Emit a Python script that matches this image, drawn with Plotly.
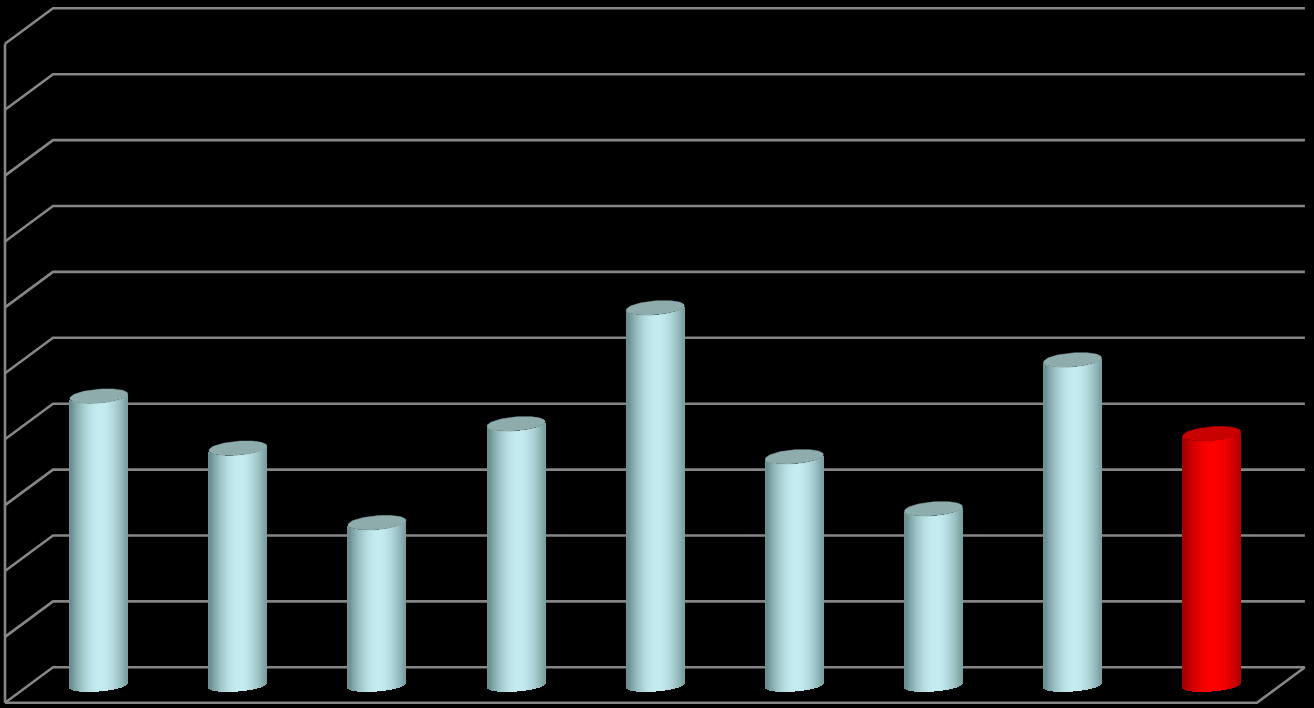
import numpy as np
import plotly.graph_objects as go

categories = [1, 2, 3, 4, 5, 6, 7, 8, 9]
values = [4.39, 3.60, 2.47, 3.97, 5.73, 3.47, 2.68, 4.94, 3.82]
highlight = [False, False, False, False, False, False, False, False, True]
grid_ticks = [0, 1, 2, 3, 4, 5, 6, 7, 8, 9, 10]

# axis scale: one category is 139.1px, one value unit is 65.9px
PX_X = 139.1
PX_Y = 65.9
DEPTH_X = 48 / PX_X
DEPTH_Y = 35.5 / PX_Y
FLOOR = -18.2 / PX_Y  # where the cylinders stand, halfway into the depth
BAR_SHIFT = 24.3 / PX_X

# cylinder shape in axis units
HALF_W = 29 / PX_X
CAP_B = 7.0 / PX_Y
CAP_TILT = 2.2 / PX_Y
BASE_B = 6.0 / PX_Y
BASE_TILT = 2.2 / PX_Y
STRIPS = 58

GRID = '#868686'


def shade(t, dark, light):
    f = max(0, 1 - abs(t - 0.08) ** 1.9)
    c = [d + (l - d) * f for d, l in zip(dark, light)]
    return 'rgb(%d,%d,%d)' % tuple(c)


fig = go.Figure()

# back wall lines and the slanted lines on the left side
left = min(categories) - 0.5
right = max(categories) + 0.5
wall_x, wall_y = [], []
for tick in grid_ticks:
    wall_x += [left, left + DEPTH_X, right + DEPTH_X, None]
    wall_y += [tick - DEPTH_Y, tick, tick, None]
# front corner post and floor edge
wall_x += [left, left, None, left, right, right + DEPTH_X]
wall_y += [grid_ticks[-1] - DEPTH_Y, grid_ticks[0] - DEPTH_Y, None,
           grid_ticks[0] - DEPTH_Y, grid_ticks[0] - DEPTH_Y, grid_ticks[0]]
fig.add_trace(go.Scatter(x=wall_x, y=wall_y, mode='lines',
                         line=dict(color=GRID, width=2.6), hoverinfo='skip'))

# each cylinder is a row of thin bars with a filled ellipse on top
# they sit on a second overlaying axis pair so they cover the wall lines
for cat, val, red in zip(categories, values, highlight):
    if red:
        dark, light, cap = (165, 0, 0), (255, 0, 0), '#c80000'
    else:
        dark, light, cap = (108, 144, 144), (197, 236, 241), '#8eacac'
    t = (np.arange(STRIPS) + 0.5) / STRIPS * 2 - 1
    round_part = np.sqrt(1 - t ** 2)
    bottom = FLOOR + t * BASE_TILT - BASE_B * round_part
    top = FLOOR + val + t * CAP_TILT - CAP_B * round_part
    fig.add_trace(go.Bar(
        x=cat + BAR_SHIFT + t * HALF_W,
        y=top - bottom,
        base=bottom,
        width=1.25 * 2 * HALF_W / STRIPS,
        marker=dict(color=[shade(i, dark, light) for i in t], line=dict(width=0)),
        hoverinfo='skip',
        xaxis='x2',
        yaxis='y2',
    ))
    a = np.linspace(0, 2 * np.pi, 90)
    fig.add_trace(go.Scatter(
        x=cat + BAR_SHIFT + np.cos(a) * HALF_W,
        y=FLOOR + val + np.cos(a) * CAP_TILT + np.sin(a) * CAP_B,
        mode='lines',
        fill='toself',
        fillcolor=cap,
        line=dict(color=cap, width=0.5),
        hoverinfo='skip',
        xaxis='x2',
        yaxis='y2',
    ))

x_range = [0.5 - 5 / PX_X, 0.5 + (1314 - 5) / PX_X]
y_range = [-40.7 / PX_Y, 667.3 / PX_Y]

fig.update_layout(
    width=1314,
    height=708,
    margin=dict(l=0, r=0, t=0, b=0),
    paper_bgcolor='black',
    plot_bgcolor='black',
    showlegend=False,
    barmode='overlay',
    bargap=0,
    xaxis=dict(range=x_range, visible=False),
    yaxis=dict(range=y_range, visible=False),
    xaxis2=dict(range=x_range, visible=False, overlaying='x'),
    yaxis2=dict(range=y_range, visible=False, overlaying='y'),
)

fig.write_html("out.html", config=dict(displayModeBar=False),
               post_script="document.body.style.margin='0';document.body.style.background='black';")
